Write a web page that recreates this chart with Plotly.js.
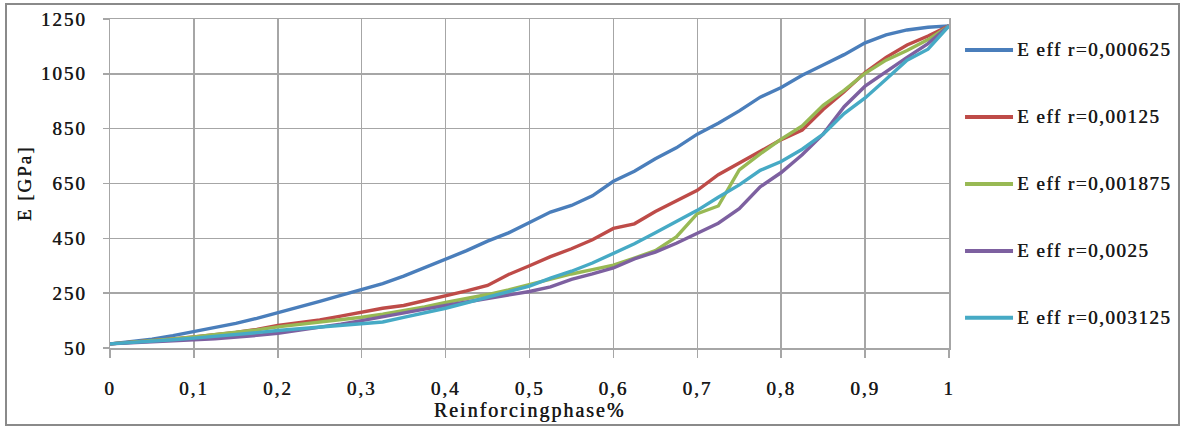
<!DOCTYPE html>
<html>
<head>
<meta charset="utf-8">
<script src="https://cdn.plot.ly/plotly-3.0.1.min.js"></script>
<style>
html,body{margin:0;padding:0;background:#fff;}
#wrap{position:relative;width:1181px;height:428px;}
#chart{width:1181px;height:428px;}
text{letter-spacing:2px;}
text.annotation-text{letter-spacing:1.5px;}
#frame{position:absolute;left:5px;top:3px;width:1171px;height:419px;border:2px solid #8a8a8a;pointer-events:none;}
</style>
</head>
<body>
<div id="wrap"><div id="chart"></div><div id="frame"></div></div>
<script>
const phase = [0,0.025,0.05,0.075,0.1,0.125,0.15,0.175,0.2,0.225,0.25,0.275,0.3,0.325,0.35,0.375,0.4,0.425,0.45,0.475,0.5,0.525,0.55,0.575,0.6,0.625,0.65,0.675,0.7,0.725,0.75,0.775,0.8,0.825,0.85,0.875,0.9,0.925,0.95,0.975,1];

const eR000625 = [65,72,82,95,110,124,140,158,178,198,220,242,264,285,312,343,376,405,440,470,508,546,570,605,658,695,740,780,830,870,915,965,1000,1045,1082,1120,1163,1192,1210,1220,1225];
const eR00125  = [65,70,76,83,90,98,107,118,132,142,152,166,181,195,205,222,242,258,278,318,350,383,412,445,486,503,548,585,625,682,725,770,810,845,920,985,1055,1110,1155,1188,1225];
const eR001875 = [65,70,76,83,90,98,106,116,127,135,144,153,162,173,186,200,216,230,245,262,282,300,320,336,352,378,405,455,540,568,700,758,812,860,935,990,1052,1100,1135,1175,1225];
const eR0025   = [65,68,72,76,80,84,89,96,104,114,124,137,150,165,178,192,205,218,232,243,256,273,300,320,342,375,400,432,468,505,558,638,690,755,830,930,1005,1058,1110,1160,1225];
const eR003125 = [65,69,74,80,86,92,98,106,114,120,125,131,137,145,162,178,195,215,236,256,276,305,330,360,396,430,470,510,552,600,645,698,730,775,830,905,962,1030,1100,1140,1225];

const seriesNames = ["E eff r=0,000625","E eff r=0,00125","E eff r=0,001875","E eff r=0,0025","E eff r=0,003125"];
const seriesValues = [eR000625, eR00125, eR001875, eR0025, eR003125];
const seriesColors = ["#4A7EBB","#BE4B48","#98B954","#7D60A0","#46AAC5"];

const xTickVals = [0,0.1,0.2,0.3,0.4,0.5,0.6,0.7,0.8,0.9,1];
const xTickText = ["0","0,1","0,2","0,3","0,4","0,5","0,6","0,7","0,8","0,9","1"];
const yTickVals = [50,250,450,650,850,1050,1250];
const yTickText = ["50","250","450","650","850","1050","1250"];

const FONT = "Liberation Serif";
const TXT = "#1a1a1a";
const SH = "0.5px 0 0 #1a1a1a";
function f(size){ return {family:FONT, size:size, color:TXT, shadow:SH}; }

const LW = 3.4;
const traces = seriesNames.map((n,i)=>({
  type:"scatter", mode:"lines", name:n, x:phase, y:seriesValues[i],
  line:{color:seriesColors[i], width:LW}, showlegend:false
}));

// legend drawn as layout decorations (paper coords)
const legTop = 0.906, legStep = 0.2036;
const legShapes = seriesNames.map((n,i)=>({
  type:"line", xref:"paper", yref:"paper",
  x0:1.0191, x1:1.0763, y0:legTop - i*legStep, y1:legTop - i*legStep,
  line:{color:seriesColors[i], width:LW+0.6}
}));
const legAnn = seriesNames.map((n,i)=>({
  xref:"paper", yref:"paper", x:1.0822, y:legTop - i*legStep, xshift:-3,
  xanchor:"left", yanchor:"middle", showarrow:false, text:n, font:f(19)
}));

const layout = {
  width:1181, height:428,
  paper_bgcolor:"#fff", plot_bgcolor:"#fff",
  margin:{l:110, r:232, t:19, b:80},
  font:f(19),
  showlegend:false,
  shapes:legShapes,
  annotations:legAnn,
  xaxis:{range:[0,1], tickvals:xTickVals, ticktext:xTickText,
    showgrid:true, gridcolor:"#a6a6a6", gridwidth:1.5,
    showline:true, linecolor:"#a6a6a6", linewidth:1.5, mirror:true,
    ticks:"outside", ticklen:8, tickcolor:"#a6a6a6", tickwidth:1.5,
    ticklabelstandoff:15, zeroline:false,
    tickfont:f(19),
    title:{text:"Reinforcingphase%", font:f(20), standoff:2}},
  yaxis:{range:[50,1250], tickvals:yTickVals, ticktext:yTickText,
    showgrid:true, gridcolor:"#a6a6a6", gridwidth:1.5,
    showline:true, linecolor:"#a6a6a6", linewidth:1.5, mirror:true,
    ticks:"outside", ticklen:6, tickcolor:"#a6a6a6", tickwidth:1.5,
    ticklabelstandoff:12, zeroline:false,
    tickfont:f(19),
    title:{text:"E [GPa]", font:f(19), standoff:4}}
};

Plotly.newPlot("chart", traces, layout, {displayModeBar:false, staticPlot:true});
</script>
</body>
</html>
